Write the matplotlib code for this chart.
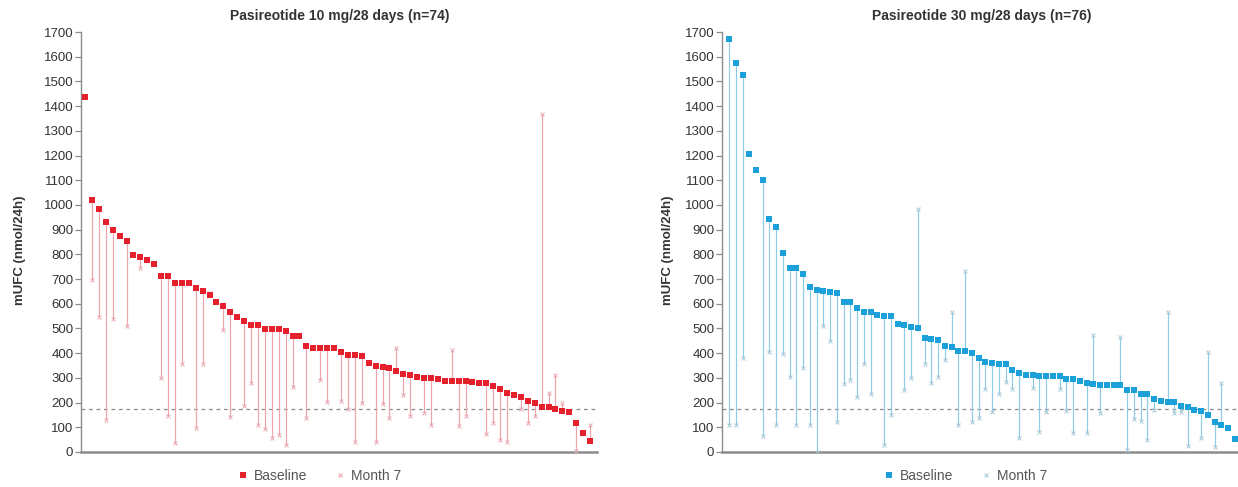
import numpy as np
import matplotlib
matplotlib.use("Agg")
import matplotlib.pyplot as plt
from matplotlib.lines import Line2D

nan = np.nan

title_10 = "Pasireotide 10 mg/28 days (n=74)"
title_30 = "Pasireotide 30 mg/28 days (n=76)"
ylabel = "mUFC (nmol/24h)"
legend_labels = ["Baseline", "Month 7"]
yticks = list(range(0, 1800, 100))
uln = 175

baseline_10 = [1435, 1021, 985, 930, 900, 873, 855, 798, 790, 777,
               760, 713, 713, 684, 684, 684, 665, 651, 635, 606,
               592, 568, 545, 529, 515, 515, 498, 498, 498, 491,
               469, 469, 430, 422, 420, 420, 420, 405, 394, 391,
               389, 359, 348, 343, 340, 327, 316, 310, 302, 300,
               299, 294, 289, 289, 289, 289, 283, 278, 278, 267,
               256, 237, 229, 224, 208, 197, 181, 181, 173, 165,
               162, 119, 78, 43]
month7_10 = [nan, 695, 546, 131, 539, nan, 510, nan, 745, nan,
             nan, 298, 146, 38, 356, nan, 98, 356, 642, nan,
             492, 143, nan, 186, 278, 108, 94, 57, 67, 27,
             262, nan, 139, nan, 291, 204, nan, 208, 173, 42,
             200, nan, 42, 193, 136, 421, 231, 146, nan, 157,
             109, nan, nan, 413, 105, 146, 290, nan, 72, 116,
             49, 40, nan, 173, 119, 147, 1370, 240, 312, 197,
             nan, 5, nan, 108]

baseline_30 = [1670, 1576, 1526, 1205, 1140, 1101, 944, 909, 807, 746,
               744, 719, 667, 656, 652, 649, 645, 609, 609, 582,
               565, 565, 554, 551, 549, 519, 515, 504, 502, 461,
               459, 455, 428, 425, 409, 409, 401, 380, 366, 360,
               356, 356, 333, 320, 312, 312, 306, 306, 306, 306,
               297, 295, 286, 279, 275, 272, 271, 270, 270, 252,
               250, 233, 233, 214, 206, 204, 202, 185, 182, 171,
               166, 151, 120, 108, 97, 53]
month7_30 = [109, 111, 379, nan, nan, 65, 406, 109, 397, 305,
             109, 339, 108, 0, 510, 451, 121, 275, 291, 223,
             356, 236, nan, 28, 150, nan, 252, 299, 985, 357,
             279, 302, 371, 565, 109, 731, 121, 136, 256, 162,
             233, 283, 255, 57, nan, 258, 82, 163, nan, 255,
             166, 78, nan, 78, 473, 158, nan, nan, 464, 9,
             134, 127, 47, 171, nan, 567, 158, 161, 24, nan,
             55, 403, 20, 279, nan, nan]

W, H = 1238, 487
fig = plt.figure(figsize=(W / 100, H / 100), dpi=100)
plt.rcParams['font.family'] = ['Liberation Sans', 'DejaVu Sans']

text_col = "#333333"

def panel(rect, base, m7, title, col, linecol, m7col, xlim, title_x, ylab_x, leg_x):
    ax = fig.add_axes(rect)
    x = np.arange(1, len(base) + 1)
    b = np.array(base, dtype=float)
    m = np.array(m7, dtype=float)
    ok = ~np.isnan(m)
    ax.axhline(uln, color="#8a8a8a", lw=0.9, ls=(0, (3, 3)), zorder=1)
    ax.vlines(x[ok], b[ok], m[ok], color=linecol, lw=0.85, zorder=2)
    ax.plot(x[ok], m[ok], ls="none", marker="x", ms=2.5, mew=0.7,
            color=m7col, zorder=3)
    ax.plot(x, b, ls="none", marker="s", ms=4.0, mew=0, color=col, zorder=4)
    ax.set_xlim(*xlim)
    ax.set_ylim(0, 1700)
    ax.set_yticks(yticks)
    ax.set_xticks([])
    for s in ("top", "right"):
        ax.spines[s].set_visible(False)
    ax.spines["left"].set_color("#8c8c8c")
    ax.spines["left"].set_linewidth(1.0)
    ax.spines["bottom"].set_color("#8c8c8c")
    ax.spines["bottom"].set_linewidth(1.8)
    ax.tick_params(axis="y", length=4, width=0.9, color="#8c8c8c",
                   labelsize=9.5, labelcolor=text_col, pad=1.5)
    fig.text(title_x / W, 1 - 16 / H, title, ha="center", va="center",
             fontsize=10, fontweight="bold", color=text_col)
    fig.text(ylab_x / W, 1 - 250 / H, ylabel, ha="center", va="center",
             rotation=90, fontsize=9.5, fontweight="bold", color=text_col)
    handles = [Line2D([], [], ls="none", marker="s", ms=4.0, mew=0, color=col),
               Line2D([], [], ls="none", marker="x", ms=3, mew=0.8, color=m7col)]
    fig.legend(handles, legend_labels, loc="center",
               bbox_to_anchor=(leg_x / W, 1 - 476 / H), ncol=2, frameon=False,
               fontsize=10, handlelength=0.6, handletextpad=0.5,
               columnspacing=2.0, labelcolor="#555555")
    return ax

panel([81 / W, 35 / H, 516 / W, 420 / H], baseline_10, month7_10, title_10,
      "#e3202b", "#eea3ad", "#e9a9b3", (0.42, 75.0), 340, 20, 320)
panel([722 / W, 35 / H, 516 / W, 420 / H], baseline_30, month7_30, title_30,
      "#1ba0da", "#8ecbe6", "#a9c9d8", (-0.04, 76.45), 982, 668, 966)

fig.savefig("out.png", dpi=100)
